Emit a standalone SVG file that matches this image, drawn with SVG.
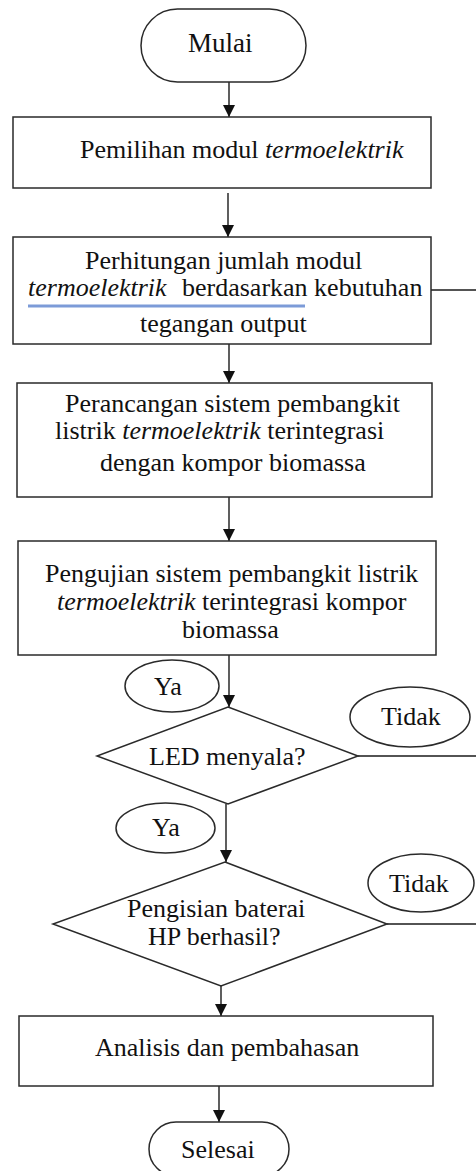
<svg xmlns="http://www.w3.org/2000/svg" width="476" height="1171" viewBox="0 0 476 1171" font-family="Liberation Serif, DejaVu Serif, serif" font-size="26">
<style>
.s{fill:#fff;stroke:#2a2a2a;stroke-width:1.5}
.c{fill:none;stroke:#1a1a1a;stroke-width:1.4}
text{fill:#111}
.i{font-style:italic}
</style>
<defs>
<marker id="ah" viewBox="0 0 10 10" refX="10" refY="5" markerWidth="12" markerHeight="13" markerUnits="userSpaceOnUse" orient="auto">
<path d="M0,0 L10,5 L0,10 z" fill="#111"/>
</marker>
</defs>
<rect width="476" height="1171" fill="#fff"/>
<g id="connectors">
<line class="c" x1="229" y1="82" x2="229" y2="117" marker-end="url(#ah)"/>
<line class="c" x1="228" y1="193" x2="228" y2="237" marker-end="url(#ah)"/>
<line class="c" x1="229" y1="344" x2="229" y2="383" marker-end="url(#ah)"/>
<line class="c" x1="229" y1="497" x2="229" y2="541" marker-end="url(#ah)"/>
<line class="c" x1="229" y1="655" x2="229" y2="707" marker-end="url(#ah)"/>
<line class="c" x1="226" y1="804" x2="226" y2="862" marker-end="url(#ah)"/>
<line class="c" x1="221" y1="986" x2="221" y2="1016" marker-end="url(#ah)"/>
<line class="c" x1="219" y1="1086" x2="219" y2="1122" marker-end="url(#ah)"/>
<line class="c" x1="431" y1="290" x2="476" y2="290"/>
<line class="c" x1="358" y1="756" x2="476" y2="756"/>
<line class="c" x1="387" y1="924" x2="476" y2="924"/>
</g>
<g id="mulai">
<rect class="s" x="141" y="9" width="165" height="73" rx="36.5"/>
<text x="188" y="52" font-size="27">Mulai</text>
</g>
<g id="pemilihan">
<rect class="s" x="13" y="117" width="418" height="71"/>
<text x="80" y="158">Pemilihan modul <tspan class="i">termoelektrik</tspan></text>
</g>
<g id="perhitungan">
<rect class="s" x="13" y="237" width="418" height="107"/>
<text x="85" y="269">Perhitungan jumlah modul</text>
<text x="28" y="296"><tspan class="i">termoelektrik</tspan><tspan x="182">berdasarkan kebutuhan</tspan></text>
<line x1="28" y1="306" x2="305" y2="306" stroke="#7c9bd8" stroke-width="3"/>
<text x="140" y="332">tegangan output</text>
</g>
<g id="perancangan">
<rect class="s" x="17" y="383" width="415" height="114"/>
<text x="65" y="412">Perancangan sistem pembangkit</text>
<text x="55" y="439">listrik <tspan class="i">termoelektrik</tspan> terintegrasi</text>
<text x="100" y="471">dengan kompor biomassa</text>
</g>
<g id="pengujian">
<rect class="s" x="18" y="541" width="418" height="114"/>
<text x="45" y="582">Pengujian sistem pembangkit listrik</text>
<text x="57" y="610"><tspan class="i">termoelektrik</tspan> terintegrasi kompor</text>
<text x="182" y="638">biomassa</text>
</g>
<g id="ya1">
<ellipse class="s" cx="172" cy="686" rx="47" ry="26"/>
<text x="154" y="695">Ya</text>
</g>
<g id="tidak1">
<ellipse class="s" cx="410" cy="717" rx="60" ry="30"/>
<text x="381" y="725">Tidak</text>
</g>
<g id="led">
<polygon class="s" points="228,707 358,756 228,804 97,756"/>
<text x="149" y="765">LED menyala?</text>
</g>
<g id="ya2">
<ellipse class="s" cx="165.5" cy="828" rx="49.5" ry="25"/>
<text x="152" y="836">Ya</text>
</g>
<g id="tidak2">
<ellipse class="s" cx="421" cy="883" rx="53" ry="29"/>
<text x="389" y="892">Tidak</text>
</g>
<g id="pengisian">
<polygon class="s" points="225,862 387,924 221,986 53,924"/>
<text x="127" y="917">Pengisian baterai</text>
<text x="148" y="945">HP berhasil?</text>
</g>
<g id="analisis">
<rect class="s" x="19" y="1016" width="414" height="70"/>
<text x="95" y="1056">Analisis dan pembahasan</text>
</g>
<g id="selesai">
<rect class="s" x="149" y="1122" width="140" height="54" rx="27"/>
<text x="181" y="1158">Selesai</text>
</g>
</svg>
